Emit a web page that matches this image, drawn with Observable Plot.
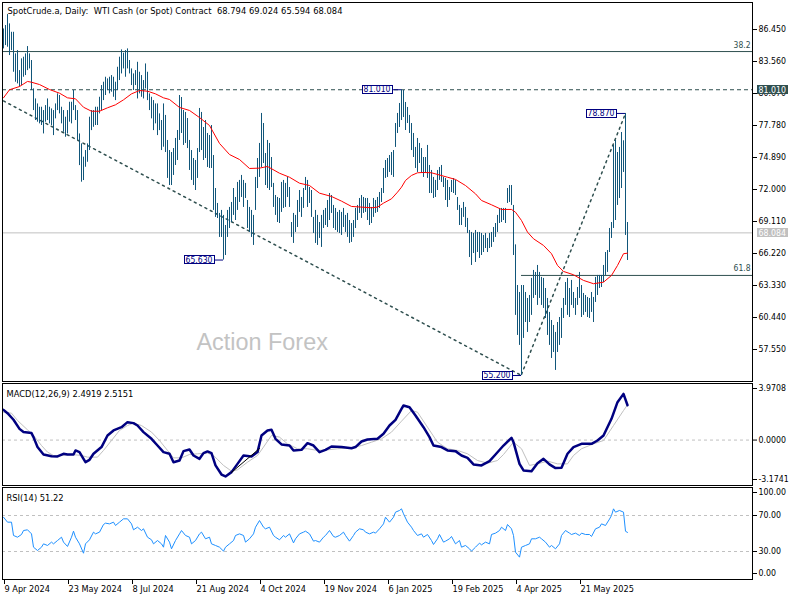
<!DOCTYPE html>
<html><head><meta charset="utf-8">
<script src="https://cdn.jsdelivr.net/npm/d3@7"></script>
<script src="https://cdn.jsdelivr.net/npm/@observablehq/plot@0.6"></script>
<style>
body{margin:0;background:#fff;}
#chart{position:relative;width:800px;height:600px;overflow:hidden;background:#fff;}
#chart svg{position:absolute;left:0;}
svg text{white-space:pre;}
</style></head><body><div id="chart"></div>
<script>
const BAR = "#11567a", NAVY = "#000080", SLATE = "#2f4f4f", SILVER = "#c0c0c0";
const FAMILY = '"DejaVu Sans Condensed", "Liberation Sans", sans-serif';
const WM_FAM = '"Liberation Sans", Arial, sans-serif';

const titleText = "SpotCrude.a, Daily:  WTI Cash (or Spot) Contract  68.794 69.024 65.594 68.084";
const macdTitle = "MACD(12,26,9) 2.4919 2.5151";
const rsiTitle = "RSI(14) 51.22";
const watermark = "Action Forex";

const highs = [
86.50,86.81,87.80,86.96,86.20,86.20,84.25,84.55,82.74,83.80,
83.95,84.25,84.91,84.25,83.65,81.09,80.18,79.73,79.43,79.43,
79.13,79.58,80.18,79.43,79.28,79.13,79.73,80.64,80.49,79.43,
79.13,78.53,79.13,79.88,79.88,80.94,79.58,79.13,77.02,76.12,
74.92,75.52,76.12,78.53,79.13,79.13,79.43,79.43,80.33,81.39,
81.69,82.14,81.99,82.14,82.29,82.14,81.69,83.04,83.95,84.61,
84.31,84.55,84.70,83.65,82.89,82.44,82.74,83.49,82.59,82.29,
81.84,83.34,82.59,80.64,80.33,80.03,79.73,79.73,78.83,78.23,
79.73,78.69,76.43,75.52,75.34,75.70,76.61,77.33,80.49,80.31,
79.14,78.96,78.41,76.43,75.52,74.80,74.62,75.70,79.32,78.96,
77.60,78.23,77.06,76.88,77.78,75.07,72.09,70.74,69.84,70.11,
69.66,68.75,70.11,70.38,70.83,72.09,71.28,72.64,72.82,73.27,
72.82,72.55,71.01,70.38,70.11,69.66,73.09,74.80,76.16,78.87,
77.96,75.25,76.43,76.16,74.89,72.55,71.46,71.28,71.19,72.64,
72.82,72.55,73.09,72.18,69.02,69.84,69.66,71.01,71.91,71.28,
72.09,73.09,72.82,72.18,71.91,69.48,70.11,69.66,69.02,69.66,
70.11,70.29,71.01,71.64,71.46,70.56,70.29,69.93,70.11,69.93,
70.29,69.66,69.84,69.20,68.93,69.20,70.29,70.56,71.19,71.46,
71.28,71.19,71.19,70.74,70.38,71.19,71.01,71.28,71.73,72.09,
73.90,74.62,74.80,75.07,75.34,75.52,77.96,78.87,79.77,81.01,
80.94,79.86,79.41,78.69,77.96,77.06,75.80,76.61,76.16,75.70,
74.89,74.89,75.98,74.17,73.72,73.09,72.82,73.72,73.99,74.17,
73.09,72.99,72.82,72.18,72.82,72.99,72.82,71.28,70.56,70.29,
70.83,70.38,69.39,68.30,68.12,68.03,68.30,68.12,68.12,68.03,
67.85,68.03,67.58,68.03,68.12,68.57,68.93,69.66,70.29,70.29,
70.29,70.29,72.09,72.36,72.36,70.56,67.00,63.33,62.70,63.33,
63.33,62.70,62.16,62.43,63.97,64.69,64.51,65.14,64.51,64.06,
63.97,63.06,62.16,60.90,60.17,59.72,59.09,59.99,60.44,61.26,
62.16,63.60,63.97,63.06,63.79,62.70,62.16,63.15,64.51,63.33,
62.61,62.43,62.25,62.16,62.70,62.25,64.06,64.24,64.24,64.24,
65.14,66.31,66.49,68.48,69.02,75.98,76.43,75.34,75.80,77.15,
76.40,78.87,69.02];
const lows = [
84.70,85.00,84.85,84.10,84.55,82.59,81.69,81.54,81.24,81.39,
82.14,82.29,82.74,82.89,80.94,79.13,78.23,78.08,77.93,77.78,
77.02,78.08,78.23,77.93,77.78,76.87,78.38,79.13,78.83,77.93,
77.17,76.72,77.02,78.08,77.93,79.13,78.23,76.42,74.16,72.66,
72.81,74.01,74.46,75.52,77.32,77.62,77.78,77.78,78.83,79.13,
80.03,80.49,80.94,80.64,80.79,80.33,80.03,80.94,81.84,82.44,
82.89,82.14,82.89,82.44,81.39,80.94,81.39,80.18,80.64,80.33,
80.18,81.09,80.03,79.13,78.38,77.32,77.93,76.87,77.32,75.52,
75.82,75.34,73.00,72.36,72.36,73.27,74.17,74.62,76.43,77.06,
75.98,76.16,75.70,73.72,72.82,72.36,71.91,73.00,75.34,75.52,
74.62,74.80,73.99,73.90,73.90,70.11,69.48,69.38,67.67,67.67,
65.63,66.04,67.67,68.48,69.02,69.66,69.20,70.11,70.83,71.28,
70.38,71.19,68.48,68.12,67.67,66.95,70.11,72.09,73.09,73.99,
74.35,72.36,72.09,71.91,72.18,70.38,69.66,69.02,68.93,69.93,
70.29,70.38,71.28,70.38,67.67,67.13,68.12,68.57,69.93,69.48,
70.29,71.91,70.38,70.74,69.48,68.03,67.13,66.95,67.58,66.77,
68.48,68.75,68.57,69.20,69.84,68.48,68.30,68.12,68.03,67.85,
68.57,68.12,67.67,67.13,67.22,67.67,68.48,69.20,69.84,69.39,
69.84,69.93,69.20,68.75,68.93,69.48,69.84,69.93,70.29,70.83,
71.64,73.00,73.09,73.54,73.27,73.09,75.80,77.06,77.60,78.23,
78.50,77.33,77.96,77.06,75.52,74.89,73.90,73.54,74.35,73.45,
73.09,73.45,73.00,71.64,71.64,71.19,71.28,71.91,72.82,72.64,
72.18,71.01,70.38,71.01,71.73,71.64,71.46,70.11,68.75,68.75,
69.48,68.57,68.03,65.86,65.14,66.22,65.41,66.31,65.77,66.04,
66.31,66.67,66.31,66.67,66.77,67.22,67.67,68.12,68.93,69.02,
69.20,68.93,70.74,70.83,70.56,66.04,60.63,58.82,57.92,55.20,
58.55,59.99,59.09,59.99,60.63,62.16,62.43,61.53,62.16,61.53,
61.26,60.35,58.82,57.92,56.74,57.28,55.66,57.28,57.92,58.55,
60.35,61.53,60.63,60.44,61.53,61.26,60.63,61.53,62.16,60.44,
60.63,60.90,60.44,60.35,60.90,59.99,61.80,62.43,63.06,63.15,
63.60,64.24,64.51,66.31,67.58,68.48,69.20,70.56,71.19,72.09,
73.54,67.85,65.59];

const maPts = [[0,80.28],[3,81.01],[8,81.30],[12,81.76],[14,81.69],[18,81.48],[23,81.03],[28,80.70],[32,80.28],[36,80.19],[40,79.43],[44,79.07],[48,79.07],[52,79.38],[56,79.65],[60,80.10],[64,80.64],[68,80.94],[72,80.88],[76,80.64],[80,80.28],[83,80.13],[88,79.41],[93,79.14],[98,78.50],[103,77.78],[108,76.16],[113,75.16],[118,74.71],[123,73.90],[128,73.93],[132,74.08],[138,73.47],[143,73.11],[148,72.57],[153,72.36],[158,71.67],[164,71.37],[169,70.95],[174,70.47],[179,70.41],[184,70.35],[187,70.41],[190,70.77],[194,71.16],[197,71.76],[199,72.21],[201,72.82],[204,73.27],[207,73.51],[210,73.54],[214,73.51],[218,73.31],[222,73.11],[226,72.91],[231,72.36],[236,71.61],[239,71.01],[244,70.62],[249,70.20],[254,70.20],[256,69.95],[259,69.20],[262,68.15],[265,67.55],[270,66.95],[274,66.20],[277,65.14],[280,64.60],[285,64.30],[290,63.79],[295,63.49],[300,63.63],[304,64.24],[307,65.14],[310,66.20],[312,66.25]];

const macdPts = [[0,2.16],[2,1.92],[5,1.45],[8,0.80],[10,0.57],[14,0.50],[15,0.21],[17,-0.50],[20,-1.03],[24,-1.15],[27,-1.17],[30,-0.98],[32,-1.03],[35,-1.03],[36,-0.74],[38,-0.86],[40,-1.34],[41,-1.58],[43,-1.41],[45,-0.98],[49,-0.50],[52,0.33],[55,0.69],[59,0.92],[62,1.28],[65,1.21],[67,1.04],[70,0.57],[74,0.09],[77,-0.39],[80,-0.86],[83,-0.98],[85,-1.58],[88,-1.46],[90,-0.79],[93,-0.67],[95,-1.10],[98,-1.34],[100,-0.93],[102,-0.81],[104,-0.93],[106,-1.81],[109,-2.46],[111,-2.60],[114,-2.29],[117,-1.70],[120,-1.10],[124,-1.17],[127,-0.86],[129,0.33],[132,0.69],[134,0.73],[136,0.09],[139,-0.31],[143,-0.39],[145,-0.74],[149,-0.70],[152,-0.22],[155,-0.39],[158,-0.86],[161,-0.70],[164,-0.46],[169,-0.50],[174,-0.58],[176,-0.50],[179,-0.10],[182,0.04],[187,0.09],[190,0.45],[193,1.04],[196,1.45],[199,2.23],[200,2.47],[203,2.35],[206,1.76],[210,0.92],[213,0.21],[215,-0.39],[219,-0.50],[222,-0.74],[226,-0.79],[229,-1.10],[232,-1.27],[235,-1.74],[239,-1.81],[243,-1.50],[246,-1.03],[250,-0.39],[254,0.16],[255,-0.15],[258,-1.70],[260,-2.17],[264,-2.22],[267,-1.65],[270,-1.34],[273,-1.74],[276,-2.00],[279,-1.98],[282,-0.98],[285,-0.50],[289,-0.27],[294,-0.27],[297,-0.03],[300,0.33],[304,1.52],[307,2.71],[310,3.30],[312,2.49]];

const signalPts = [[0,1.99],[4,1.92],[7,1.40],[12,0.73],[15,0.33],[19,-0.39],[22,-0.86],[25,-1.10],[29,-1.10],[34,-1.03],[39,-1.10],[42,-1.22],[47,-1.22],[50,-0.74],[54,-0.03],[58,0.69],[62,1.04],[65,1.21],[69,1.04],[74,0.57],[78,-0.03],[82,-0.74],[85,-1.27],[89,-1.27],[93,-1.03],[97,-0.98],[102,-0.93],[105,-1.10],[110,-1.81],[114,-2.22],[117,-2.12],[122,-1.58],[127,-1.10],[130,-0.50],[134,0.33],[138,0.21],[142,-0.27],[147,-0.62],[152,-0.62],[157,-0.74],[162,-0.70],[167,-0.62],[174,-0.55],[179,-0.39],[184,-0.15],[189,0.09],[194,0.57],[199,1.35],[204,2.11],[207,1.99],[212,0.92],[217,-0.15],[222,-0.62],[227,-0.74],[232,-0.98],[237,-1.46],[242,-1.65],[247,-1.46],[250,-1.03],[255,-0.15],[259,-0.62],[263,-1.81],[267,-1.70],[272,-1.50],[277,-1.70],[282,-1.70],[285,-1.10],[289,-0.62],[295,-0.27],[300,-0.03],[305,1.04],[310,2.11],[312,2.52]];

const rsiPts = [[0,68.1],[2,62.6],[4,62.6],[5,47.8],[7,45.9],[9,48.9],[10,53.3],[12,54.1],[14,49.6],[15,34.8],[17,31.1],[19,34.8],[20,38.5],[22,36.7],[24,40.4],[25,38.5],[27,42.2],[29,45.9],[30,40.4],[32,35.6],[34,45.9],[35,52.6],[36,45.9],[38,38.5],[40,28.1],[41,38.5],[43,43.0],[45,51.5],[46,49.6],[48,51.5],[50,60.0],[51,61.5],[53,60.7],[55,62.6],[56,58.9],[58,62.6],[60,66.3],[62,66.3],[64,60.7],[65,54.1],[67,57.0],[69,53.3],[70,55.2],[72,45.9],[74,43.0],[75,38.5],[77,42.2],[79,38.5],[80,34.8],[81,47.8],[83,40.4],[84,33.0],[86,42.2],[88,49.6],[89,53.3],[91,47.8],[93,45.9],[94,38.5],[96,42.2],[98,49.6],[99,51.5],[101,44.1],[103,45.9],[104,38.5],[106,36.7],[108,34.8],[110,30.4],[111,34.8],[113,38.5],[115,42.2],[116,47.8],[118,49.6],[120,47.8],[121,40.4],[123,44.1],[125,49.6],[126,57.0],[128,64.4],[130,57.0],[131,55.2],[133,57.0],[135,47.8],[136,45.9],[138,43.0],[140,47.8],[141,45.9],[143,49.6],[145,39.6],[146,44.1],[148,49.6],[150,51.5],[151,52.6],[153,49.6],[155,41.5],[156,42.2],[158,40.4],[160,45.9],[161,47.8],[163,53.3],[165,46.7],[166,45.9],[168,47.8],[170,51.5],[171,47.8],[173,41.5],[175,47.8],[176,51.5],[178,55.2],[180,54.1],[181,51.5],[183,49.6],[185,51.5],[186,50.4],[188,55.2],[190,60.7],[191,68.1],[193,62.6],[195,68.1],[196,73.7],[198,75.6],[199,77.4],[200,71.9],[202,62.6],[204,57.0],[205,53.3],[207,47.8],[209,49.6],[210,45.9],[212,48.9],[214,42.2],[215,37.8],[217,44.1],[218,48.9],[220,40.4],[221,41.5],[223,44.1],[224,46.7],[226,38.5],[228,42.2],[229,34.8],[231,36.7],[233,33.0],[234,30.4],[236,34.8],[238,39.3],[239,37.4],[241,40.4],[243,38.5],[244,48.9],[246,50.4],[248,53.3],[249,57.0],[251,53.3],[252,60.0],[254,55.2],[255,47.8],[256,29.3],[258,23.7],[259,34.8],[261,36.7],[263,38.5],[264,44.1],[266,44.1],[268,45.9],[269,44.1],[271,40.4],[273,34.8],[274,36.7],[276,33.0],[278,38.5],[279,47.8],[281,53.3],[283,50.4],[284,48.9],[286,50.4],[288,47.8],[289,50.4],[291,48.9],[293,48.9],[294,46.7],[296,55.2],[298,57.0],[299,60.7],[301,58.9],[303,66.0],[304,70.0],[305,77.4],[306,73.7],[308,75.6],[310,73.7],[311,52.5],[312,51.2]];

const priceTicks = [86.45, 83.56, 80.67, 77.78, 74.89, 72.00, 69.11, 66.22, 63.33, 60.44, 57.55];
const macdTicksMid = [0], macdTickTop = [3.9708], macdTickBottom = [-3.1741];
const rsiTicksMid = [70, 30], rsiTickTop = [100], rsiTickBottom = [0];
const rsiLevels = [70, 30];
const timeTickIdx = [0, 32, 64, 96, 128, 160, 192, 224, 256, 288];
const timeTickLabels = ["9 Apr 2024","23 May 2024","8 Jul 2024","21 Aug 2024","4 Oct 2024","19 Nov 2024","6 Jan 2025","19 Feb 2025","4 Apr 2025","21 May 2025"];

const fibLabels = ["38.2", "61.8"];
const fibPrices = [84.46, 64.24];
const fib618Start = 259;
const resistance = 81.01;
const lastClose = 68.084;
const swingIdx = [199, 110, 259, 311];
const swingVal = [81.010, 65.630, 55.200, 78.870];
const trend1Pts = [[0, 80.0], [258, 55.3]];
const trend2Pts = [[259, 55.3], [311, 78.87]];
const macdTrendPts = [[114, -2.31], [128, -0.60]];
const axisBoxVals = [81.010, 68.084];
const axisBoxFill = [SLATE, SILVER];

const pts = a => a.map(([i, v]) => ({i, v}));
const bars = highs.map((h, i) => ({i, high: h, low: lows[i]}));
const swings = swingIdx.map((i, k) => ({i, v: swingVal[k]}));

const XD = [-0.5, 374.5], XR = [2, 752];
const baseStyle = {fontFamily: FAMILY, fontSize: "10px", background: "transparent", color: "black", overflow: "visible"};
const common = {width: 800, marginLeft: 2, marginRight: 48, style: baseStyle};
const yAx = (ticks, fmt, dy) => Plot.axisY({anchor: "right", ticks, tickFormat: fmt, tickSize: 4, tickPadding: 2, dy, label: null, fontFamily: FAMILY, fontSize: 10});

const pricePlot = Plot.plot({
  ...common, height: 382, marginTop: 2, marginBottom: 1,
  x: {domain: XD, range: XR, axis: null},
  y: {domain: [54.66, 88.89], range: [381, 2], axis: null},
  marks: [
    Plot.text([watermark], {frameAnchor: "bottom-left", dx: 194, dy: -32, lineAnchor: "bottom", textAnchor: "start", fontSize: 23, fontFamily: WM_FAM, fill: "#c3c3c3", className: "wm"}),
    Plot.ruleY([fibPrices[0]], {stroke: SLATE}),
    Plot.ruleY([fibPrices[1]], {x1: fib618Start, x2: XD[1], stroke: SLATE}),
    Plot.ruleY([resistance], {stroke: SLATE, strokeDasharray: "4,3"}),
    Plot.ruleY([lastClose], {stroke: SILVER}),
    Plot.line(pts(trend1Pts), {x: "i", y: "v", stroke: SLATE, strokeDasharray: "2,4"}),
    Plot.line(pts(trend2Pts), {x: "i", y: "v", stroke: SLATE, strokeDasharray: "2,4"}),
    Plot.ruleX(bars, {x: "i", y1: "low", y2: "high", stroke: BAR}),
    Plot.line(pts(maPts), {x: "i", y: "v", stroke: "#ff0000", strokeWidth: 1}),
    Plot.text(fibPrices, {y: d => d, text: (d, k) => fibLabels[k], frameAnchor: "right", dx: -2, dy: -4, textAnchor: "end", lineAnchor: "bottom", fill: SLATE, fontFamily: FAMILY, fontSize: 10, className: "fib"}),
    Plot.ruleY(swings, {y: "v", x1: d => d.i - 5, x2: "i", stroke: NAVY}),
    Plot.text(swings, {x: "i", y: "v", text: d => d.v.toFixed(3), dx: -11, textAnchor: "end", lineAnchor: "middle", fill: NAVY, fontFamily: FAMILY, fontSize: 10, className: "lblbox"}),
    yAx(priceTicks, d => d.toFixed(3), 0),
    Plot.text(axisBoxVals, {y: d => d, text: d => d.toFixed(3), frameAnchor: "right", dx: 6, textAnchor: "start", lineAnchor: "middle", fill: "white", fontFamily: FAMILY, fontSize: 10, className: "axbox"}),
    Plot.text([titleText], {frameAnchor: "top-left", dx: 5, dy: 11.5, lineAnchor: "bottom", textAnchor: "start", fill: "black", fontFamily: FAMILY, fontSize: 10, className: "ttl"}),
    Plot.frame({stroke: "black"})
  ]
});

const macdPlot = Plot.plot({
  ...common, height: 104, marginTop: 1, marginBottom: 1,
  x: {domain: XD, range: XR, axis: null},
  y: {domain: [macdTickBottom[0], macdTickTop[0]], range: [102, 2], axis: null},
  marks: [
    Plot.ruleY(macdTicksMid, {stroke: SILVER, strokeDasharray: "3,3"}),
    Plot.line(pts(signalPts), {x: "i", y: "v", stroke: SILVER, strokeWidth: 1}),
    Plot.line(pts(macdPts), {x: "i", y: "v", stroke: NAVY, strokeWidth: 2.5}),
    Plot.line(pts(macdTrendPts), {x: "i", y: "v", stroke: "black", strokeWidth: 1}),
    Plot.text([macdTitle], {frameAnchor: "top-left", dx: 4, dy: 13.5, lineAnchor: "bottom", textAnchor: "start", fill: "black", fontFamily: FAMILY, fontSize: 10, className: "ind"}),
    yAx(macdTicksMid, d => d.toFixed(4), 0),
    yAx(macdTickTop, d => d.toFixed(4), 4),
    yAx(macdTickBottom, d => d.toFixed(4), -5),
    Plot.frame({stroke: "black"})
  ]
});

const rsiPlot = Plot.plot({
  ...common, height: 114, marginTop: 1, marginBottom: 21,
  x: {domain: XD, range: XR, axis: null},
  y: {domain: [0, 100], range: [92, 2], axis: null},
  marks: [
    Plot.ruleY(rsiLevels, {stroke: SILVER, strokeDasharray: "3,3"}),
    Plot.line(pts(rsiPts), {x: "i", y: "v", stroke: "#1e90ff", strokeWidth: 1}),
    Plot.text([rsiTitle], {frameAnchor: "top-left", dx: 4, dy: 13.5, lineAnchor: "bottom", textAnchor: "start", fill: "black", fontFamily: FAMILY, fontSize: 10, className: "ind"}),
    yAx(rsiTicksMid, d => d.toFixed(2), 0),
    yAx(rsiTickTop, d => d.toFixed(2), 4),
    yAx(rsiTickBottom, d => d.toFixed(2), -5),
    Plot.axisX({anchor: "bottom", ticks: timeTickIdx, tickFormat: d => timeTickLabels[timeTickIdx.indexOf(d)], tickSize: 5, tickPadding: 1, textAnchor: "start", dx: 1, label: null, fontFamily: FAMILY, fontSize: 10}),
    Plot.frame({stroke: "black"})
  ]
});

const chart = document.getElementById("chart");
[[pricePlot, 0], [macdPlot, 382], [rsiPlot, 486]].forEach(([svg, top]) => {
  svg.style.top = top + "px";
  chart.appendChild(svg);
});

// size each kind of text to the width it has in the reference, measured on the rendered SVG
function fitTexts(root, selector, sample, targetW) {
  const texts = [...root.querySelectorAll(selector)];
  if (!texts.length) return null;
  const ref = texts.find(t => t.textContent === sample) || texts[0];
  const cur = parseFloat(getComputedStyle(ref).fontSize) || 10;
  const w = ref.getComputedTextLength();
  if (!w) return null;
  const fs = cur * targetW / w;
  texts.forEach(t => { t.style.fontSize = fs + "px"; });
  return fs;
}
const fsInd = fitTexts(chart, "g.ind text", macdTitle, 127) || 10;
// the header uses the same type size as the indicator headers; its run length is pinned to the reference's
chart.querySelectorAll("g.ttl text").forEach(t => {
  t.style.fontSize = fsInd + "px";
  t.setAttribute("textLength", 335);
  t.setAttribute("lengthAdjust", "spacing");
});
fitTexts(chart, 'g[aria-label="y-axis tick label"] text', "86.450", 27.5);
fitTexts(chart, 'g[aria-label="x-axis tick label"] text', "23 May 2024", 53.5);
fitTexts(chart, "g.axbox text", "81.010", 27.5);
fitTexts(chart, "g.fib text", "38.2", 17);
fitTexts(chart, "g.lblbox text", "81.010", 27);
fitTexts(chart, "g.wm text", watermark, 131.5);

function addBoxes(svg, cls, fills, strokes, padX, padY) {
  svg.querySelectorAll("g." + cls + " text").forEach((t, k) => {
    const b = t.getBBox();
    const r = document.createElementNS("http://www.w3.org/2000/svg", "rect");
    r.setAttribute("x", b.x - padX);
    r.setAttribute("y", b.y + padY);
    r.setAttribute("width", b.width + 2 * padX);
    r.setAttribute("height", b.height - 2 * padY);
    r.setAttribute("fill", Array.isArray(fills) ? fills[k] : fills);
    if (strokes) { r.setAttribute("stroke", strokes); r.setAttribute("stroke-width", 1); }
    r.setAttribute("shape-rendering", "crispEdges");
    const tr = t.getAttribute("transform");
    if (tr) r.setAttribute("transform", tr);
    t.parentNode.insertBefore(r, t);
  });
}
addBoxes(pricePlot, "lblbox", "white", NAVY, 1.5, 1);
addBoxes(pricePlot, "axbox", axisBoxFill, null, 2, 0.5);
</script></body></html>
